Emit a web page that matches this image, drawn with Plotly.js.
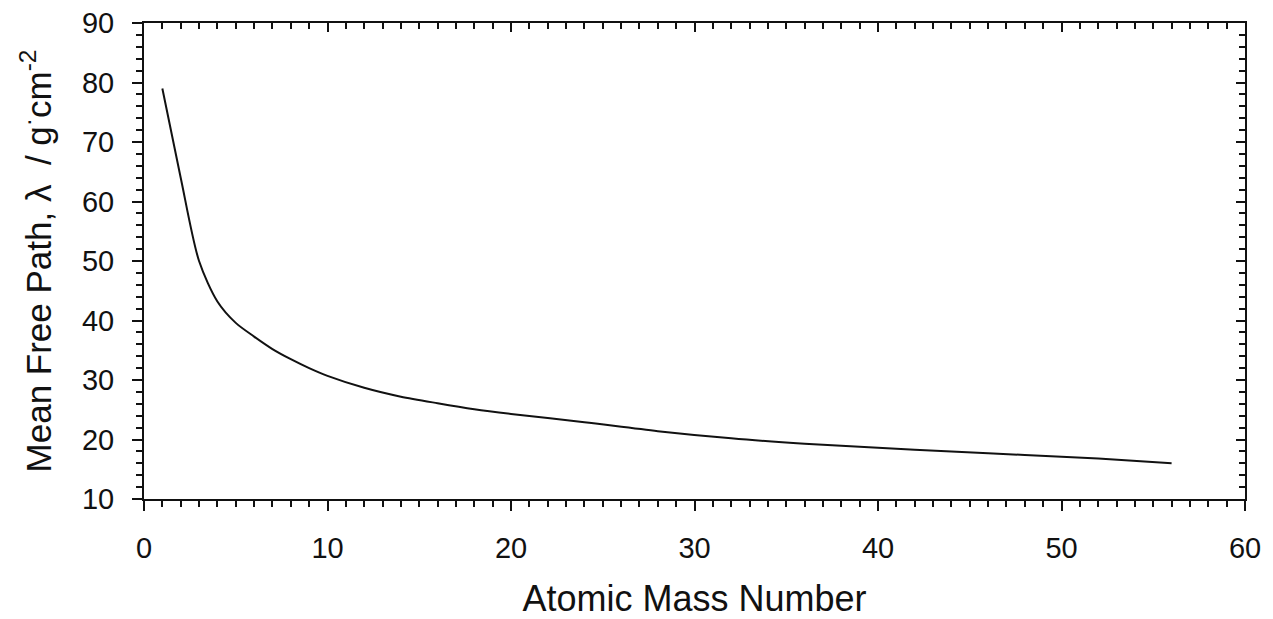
<!DOCTYPE html>
<html>
<head>
<meta charset="utf-8">
<script src="https://cdn.plot.ly/plotly-3.0.1.min.js"></script>
<style>html,body{margin:0;padding:0;background:#fff;}#chart{width:1273px;height:619px;}</style>
</head>
<body>
<div id="chart"></div>
<script>
const massNumber = [1, 2, 3, 4, 5, 6, 7, 8, 9, 10, 12, 14, 16, 18, 20, 24, 28, 32, 36, 40, 44, 48, 52, 56];
const meanFreePath = [79, 64, 50.0, 43.2, 39.6, 37.3, 35.2, 33.5, 32.0, 30.7, 28.7, 27.2, 26.1, 25.1, 24.3, 22.9, 21.4, 20.2, 19.3, 18.6, 18.0, 17.4, 16.8, 16.0];
const xTickVals = [0, 10, 20, 30, 40, 50, 60];
const yTickVals = [10, 20, 30, 40, 50, 60, 70, 80, 90];

const FONT = 'Liberation Sans, Arial, sans-serif';
const trace = {
  x: massNumber, y: meanFreePath, type: 'scatter', mode: 'lines',
  line: {color: '#111', width: 2, shape: 'spline', smoothing: 0.8},
  hoverinfo: 'x+y', showlegend: false
};
const dummy = {x: [0], y: [10], xaxis: 'x2', yaxis: 'y2', mode: 'markers', marker: {opacity: 0}, showlegend: false, hoverinfo: 'skip'};

const layout = {
  width: 1273, height: 619,
  margin: {l: 144, r: 28, t: 23, b: 120},
  paper_bgcolor: '#fff', plot_bgcolor: '#fff',
  font: {family: FONT, color: '#111'},
  xaxis: {
    range: [0, 60], tickvals: xTickVals, ticks: 'outside', ticklen: 10, tickwidth: 2, tickcolor: '#111',
    minor: {dtick: 1, ticks: 'outside', ticklen: 6, tickwidth: 2, tickcolor: '#111', showgrid: false},
    showline: true, linecolor: '#111', linewidth: 2, showgrid: false, zeroline: false,
    ticklabelstandoff: 12,
    tickfont: {size: 29, family: FONT, color: '#111'},
    title: {text: 'Atomic Mass Number', font: {size: 36, family: FONT, color: '#111'}, standoff: 34}
  },
  yaxis: {
    range: [10, 90], tickvals: yTickVals, ticks: 'outside', ticklen: 10, tickwidth: 2, tickcolor: '#111',
    minor: {dtick: 2, ticks: 'outside', ticklen: 6, tickwidth: 2, tickcolor: '#111', showgrid: false},
    showline: true, linecolor: '#111', linewidth: 2, showgrid: false, zeroline: false,
    ticklabelstandoff: 12,
    tickfont: {size: 29, family: FONT, color: '#111'},
    title: {text: 'Mean Free Path, λ  / g<sup>·</sup>cm<sup>-2</sup>', font: {size: 35, family: FONT, color: '#111'}, standoff: 20}
  },
  xaxis2: {
    overlaying: 'x', side: 'top', anchor: 'y2',
    range: [0, 60], tickvals: xTickVals, ticks: 'inside', ticklen: 9, tickwidth: 2, tickcolor: '#111',
    minor: {dtick: 1, ticks: 'inside', ticklen: 6, tickwidth: 2, tickcolor: '#111', showgrid: false},
    showticklabels: false, showline: true, linecolor: '#111', linewidth: 2, showgrid: false, zeroline: false
  },
  yaxis2: {
    overlaying: 'y', side: 'right', anchor: 'x2',
    range: [10, 90], tickvals: yTickVals, ticks: 'inside', ticklen: 9, tickwidth: 2, tickcolor: '#111',
    minor: {dtick: 2, ticks: 'inside', ticklen: 6, tickwidth: 2, tickcolor: '#111', showgrid: false},
    showticklabels: false, showline: true, linecolor: '#111', linewidth: 2, showgrid: false, zeroline: false
  }
};
Plotly.newPlot('chart', [trace, dummy], layout, {displayModeBar: false, staticPlot: true});
</script>
</body>
</html>
